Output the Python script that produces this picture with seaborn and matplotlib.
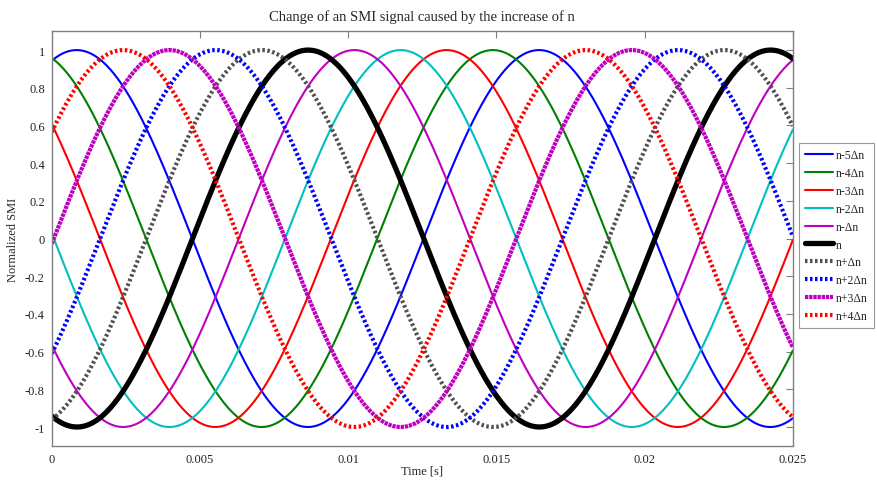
import numpy as np
import pandas as pd
import matplotlib
matplotlib.use("Agg")
import matplotlib.pyplot as plt
import seaborn as sns

# series: name, time of a peak [s]
labels = ["n-5\u0394n", "n-4\u0394n", "n-3\u0394n", "n-2\u0394n", "n-\u0394n",
          "n", "n+\u0394n", "n+2\u0394n", "n+3\u0394n", "n+4\u0394n"]
peak_times = [0.00084, -0.00072, -0.00228, 0.01177, 0.01021,
              0.00865, 0.00709, 0.00553, 0.00397, 0.00241]
period = 0.0156  # seconds, same for all curves

colors = ["#0000ff", "#008000", "#ff0000", "#00bfbf", "#bf00bf",
          "#000000", "#505050", "#0000ff", "#bf00bf", "#ff0000"]
widths = [1.5, 1.5, 1.5, 1.5, 1.5, 3.8, 3.0, 3.0, 3.0, 3.0]
styles = ["-", "-", "-", "-", "-", "-",
          (0, (0.6, 0.6)), (0, (0.6, 0.6)), (0, (0.8, 0.2)), (0, (0.6, 0.6))]

t = np.linspace(0, 0.025, 800)

sns.set_theme(style="white")
plt.rcParams["font.family"] = ["Liberation Serif", "DejaVu Serif"]

fig = plt.figure(figsize=(8.77, 4.81), dpi=100)
ax = fig.add_axes([0.059, 0.071, 0.845, 0.862])

for name, tp, c, lw, ls in zip(labels, peak_times, colors, widths, styles):
    df = pd.DataFrame({"t": t, "smi": np.cos(2 * np.pi * (t - tp) / period)})
    sns.lineplot(data=df, x="t", y="smi", ax=ax, color=c, linewidth=lw,
                 linestyle=ls, label=name)

ax.set_xlim(0, 0.025)
ax.set_ylim(-1.1, 1.1)
ax.set_xticks(np.arange(0, 0.0251, 0.005))
ax.set_xticklabels(["0", "0.005", "0.01", "0.015", "0.02", "0.025"])
ax.set_yticks(np.arange(-1, 1.01, 0.2))
ax.set_yticklabels(["-1", "-0.8", "-0.6", "-0.4", "-0.2", "0",
                    "0.2", "0.4", "0.6", "0.8", "1"])
ax.tick_params(direction="in", length=5, width=0.8, color="#808080",
               top=True, right=True, labelsize=9, pad=5, labelcolor="#222222")
for sp in ax.spines.values():
    sp.set_color("#808080")
    sp.set_linewidth(1.0)

ax.set_xlabel("Time [s]", fontsize=9, labelpad=0)
ax.set_ylabel("Normalized SMI", fontsize=9, labelpad=4)
ax.set_title("Change of an SMI signal caused by the increase of n", fontsize=10.5, pad=8)

leg = ax.legend(loc="upper left", bbox_to_anchor=(1.009, 0.73), fontsize=8.5,
                frameon=True, fancybox=False, handlelength=2.3,
                handletextpad=0.3, borderpad=0.5, labelspacing=0.5,
                borderaxespad=0)
leg.get_frame().set_edgecolor("#808080")
leg.get_frame().set_linewidth(0.8)

fig.savefig("out.png", dpi=100)
